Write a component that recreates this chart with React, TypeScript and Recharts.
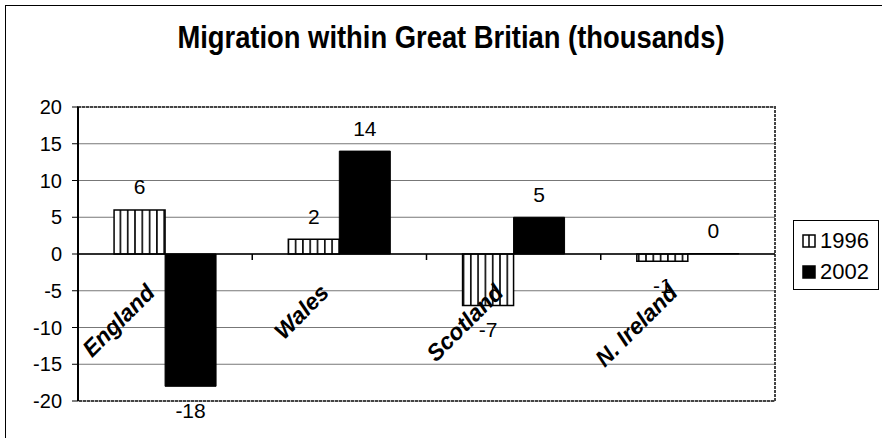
import { BarChart, Bar, XAxis, YAxis, CartesianGrid, ReferenceLine, ReferenceArea, LabelList, Legend } from 'recharts'

const categories = ['England', 'Wales', 'Scotland', 'N. Ireland']
const values1996 = [6, 2, -7, -1]
const values2002 = [-18, 14, 5, 0]
const yTicks = [-20, -15, -10, -5, 0, 5, 10, 15, 20]
const seriesNames = ['1996', '2002']

const data = categories.map((name, i) => ({ name, y1996: values1996[i], y2002: values2002[i] }))

const W = 882
const H = 438
const PLOT_LEFT = 78
const PLOT_TOP = 107
const PLOT_RIGHT = 775
const PLOT_BOTTOM = 401
const Y_MIN = -20
const Y_MAX = 20
const ZERO_Y = PLOT_TOP + ((Y_MAX - 0) / (Y_MAX - Y_MIN)) * (PLOT_BOTTOM - PLOT_TOP)
const BAND = (PLOT_RIGHT - PLOT_LEFT) / categories.length

const FONT = '"Liberation Sans", Arial, sans-serif'

function CategoryTick(props: any) {
  const { x, payload, index } = props
  return (
    <g>
      <text
        transform={`translate(${x - 9},${ZERO_Y + 40}) rotate(-45)`}
        textAnchor="end"
        fontFamily={FONT}
        fontSize={23}
        fontWeight="bold"
        fontStyle="italic"
        fill="#000"
      >
        {payload.value}
      </text>
      {index > 0 && (
        <line x1={x - BAND / 2} x2={x - BAND / 2} y1={ZERO_Y} y2={ZERO_Y + 6} stroke="#000" strokeWidth={1.5} />
      )}
    </g>
  )
}

function ValueLabel(props: any) {
  const vb = props.viewBox || props
  const { x, y, width, height } = vb
  const value = props.value
  const top = Math.min(y, y + height)
  const bottom = Math.max(y, y + height)
  const cy = value >= 0 ? top - 23 : bottom + 24
  return (
    <text x={x + width / 2} y={cy} dy="0.36em" textAnchor="middle" fontFamily={FONT} fontSize={21} fill="#000">
      {value}
    </text>
  )
}

function LegendBox() {
  return (
    <div
      style={{
        width: 86,
        height: 70,
        boxSizing: 'border-box',
        border: '1px solid #000',
        background: '#fff',
        fontFamily: FONT,
        fontSize: 22,
        color: '#000',
        padding: '4px 0 0 8px',
      }}
    >
      {seriesNames.map((s, i) => (
        <div key={s} style={{ display: 'flex', alignItems: 'center', height: 31 }}>
          <svg width={14} height={14} style={{ marginRight: 4 }}>
            <rect x={1} y={1} width={12} height={12} fill={i === 0 ? '#fff' : '#000'} stroke="#000" strokeWidth={1.5} />
            {i === 0 && <line x1={7} y1={1} x2={7} y2={13} stroke="#000" strokeWidth={1.5} />}
          </svg>
          <span>{s}</span>
        </div>
      ))}
    </div>
  )
}

export default function App() {
  return (
    <div style={{ position: 'absolute', left: 0, top: 0, width: W, height: H, overflow: 'hidden', background: '#fff' }}>
      <div
        style={{
          position: 'absolute',
          left: 5,
          top: 5,
          width: W + 20,
          height: H + 20,
          border: '1px solid #000',
        }}
      />
      <div
        style={{
          position: 'absolute',
          left: 0,
          top: 19,
          width: 902,
          textAlign: 'center',
          fontFamily: FONT,
          fontWeight: 'bold',
          fontSize: 32,
          lineHeight: '36px',
          color: '#000',
          transform: 'scaleX(0.855)',
          transformOrigin: '451px 0',
        }}
      >
        Migration within Great Britian (thousands)
      </div>
      <div style={{ position: 'absolute', left: 0, top: 0 }}>
        <BarChart
          width={W}
          height={H}
          data={data}
          margin={{ top: PLOT_TOP, right: W - PLOT_RIGHT, bottom: 0, left: 0 }}
          barCategoryGap="20.7%"
          barGap={0}
        >
          <defs>
            <pattern id="vstripe" patternUnits="userSpaceOnUse" width={7.3} height={8}>
              <rect x={0} y={0} width={7.3} height={8} fill="#fff" />
              <line x1={3.6} y1={0} x2={3.6} y2={8} stroke="#000" strokeWidth={1.6} />
            </pattern>
          </defs>
          <CartesianGrid vertical={false} stroke="#777" strokeWidth={1.2} />
          <ReferenceArea y1={Y_MIN} y2={Y_MAX} fill="none" stroke="#444" strokeWidth={2} strokeDasharray="3 1" />
          <XAxis
            dataKey="name"
            height={H - PLOT_BOTTOM}
            axisLine={false}
            tickLine={false}
            tick={<CategoryTick />}
            interval={0}
          />
          <YAxis
            width={PLOT_LEFT}
            domain={[Y_MIN, Y_MAX]}
            ticks={yTicks}
            interval={0}
            axisLine={{ stroke: '#000', strokeWidth: 2 }}
            tickLine={{ stroke: '#000', strokeWidth: 1 }}
            tickSize={6}
            tickMargin={10}
            tick={{ fill: '#000', fontSize: 20, fontFamily: FONT }}
          />
          <ReferenceLine y={0} stroke="#000" strokeWidth={1.5} />
          <Bar dataKey="y1996" name="1996" fill="url(#vstripe)" stroke="#000" strokeWidth={1.5} isAnimationActive={false}>
            <LabelList dataKey="y1996" content={<ValueLabel />} />
          </Bar>
          <Bar
            dataKey="y2002"
            name="2002"
            fill="#000"
            stroke="#000"
            strokeWidth={1}
            minPointSize={0.5}
            isAnimationActive={false}
          >
            <LabelList dataKey="y2002" content={<ValueLabel />} />
          </Bar>
          <Legend
            layout="vertical"
            align="center"
            verticalAlign="middle"
            content={<LegendBox />}
            wrapperStyle={{ position: 'absolute', left: 793, top: 220, width: 86, height: 70 }}
          />
        </BarChart>
      </div>
    </div>
  )
}
